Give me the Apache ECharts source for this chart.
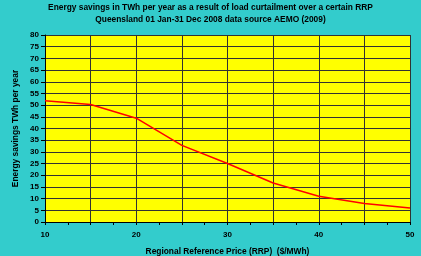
<!DOCTYPE html>
<html>
<head>
<meta charset="utf-8">
<script src="https://cdn.jsdelivr.net/npm/echarts@6/dist/echarts.min.js"></script>
<style>
    html, body { margin: 0; padding: 0; background: #33cccc; }
    #main { width: 421px; height: 256px; }
</style>
</head>
<body>
<div id="main"></div>
<script type="text/javascript">
    // RRP ($/MWh) and energy savings (TWh per year)
    var prices = [10, 15, 20, 25, 30, 35, 40, 45, 50];
    var savings = [51.9, 50.3, 44.4, 32.8, 25.0, 16.7, 11.0, 7.9, 6.0];

    var font = 'Liberation Sans, Arial, sans-serif';
    var myChart = echarts.init(document.getElementById('main'));

    myChart.setOption({
        backgroundColor: '#33cccc',
        animation: false,
        title: {
            text: 'Energy savings in TWh per year as a result of load curtailment over a certain RRP\nQueensland 01 Jan-31 Dec 2008 data source AEMO (2009)',
            left: 'center',
            top: 2,
            padding: 0,
            textStyle: {
                fontFamily: font,
                fontSize: 8.4,
                fontWeight: 'bold',
                color: '#000',
                lineHeight: 12
            }
        },
        grid: {
            left: 45,
            right: 11,
            top: 35,
            bottom: 34,
            outerBoundsMode: 'none',
            containLabel: false,
            show: true,
            backgroundColor: '#ffff00',
            borderWidth: 0
        },
        xAxis: {
            type: 'value',
            min: 10,
            max: 50,
            interval: 5,
            name: 'Regional Reference Price (RRP)  ($/MWh)',
            nameLocation: 'middle',
            nameGap: 26,
            nameTextStyle: { fontFamily: font, fontSize: 8.4, fontWeight: 'bold', color: '#000' },
            axisLine: { lineStyle: { color: '#000', width: 1 } },
            axisTick: { show: true, length: 3, lineStyle: { color: '#000' } },
            minorTick: { show: true, splitNumber: 2, length: 3, lineStyle: { color: '#000' } },
            axisLabel: {
                margin: 9,
                fontFamily: font, fontSize: 8, fontWeight: 'bold', color: '#000',
                formatter: function (v) { return v % 10 === 0 ? v : ''; }
            },
            splitLine: { show: true, lineStyle: { color: '#333', width: 1 } }
        },
        yAxis: {
            type: 'value',
            min: 0,
            max: 80,
            interval: 5,
            name: 'Energy savings TWh per year',
            nameLocation: 'middle',
            nameGap: 24,
            nameTextStyle: { fontFamily: font, fontSize: 8.4, fontWeight: 'bold', color: '#000' },
            axisLine: { show: true, lineStyle: { color: '#000', width: 1 } },
            axisTick: { show: true, length: 4, lineStyle: { color: '#000' } },
            axisLabel: { margin: 6, fontFamily: font, fontSize: 8, fontWeight: 'bold', color: '#000' },
            splitLine: { show: true, lineStyle: { color: '#333', width: 1 } }
        },
        series: [{
            type: 'line',
            data: prices.map(function (p, i) { return [p, savings[i]]; }),
            showSymbol: false,
            lineStyle: { color: '#ff0000', width: 1.5 }
        }]
    });
</script>
</body>
</html>
